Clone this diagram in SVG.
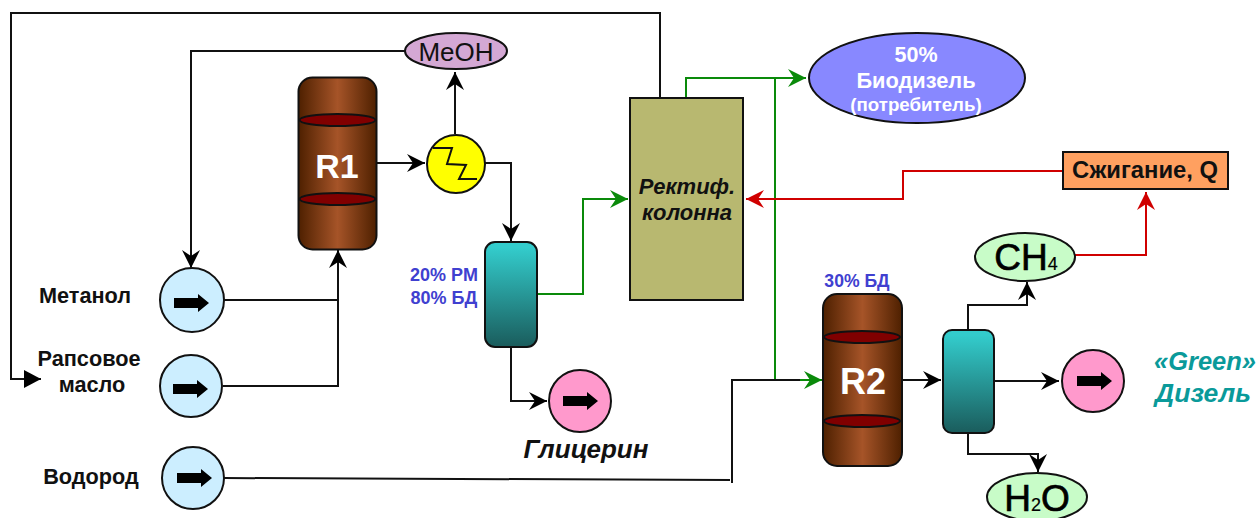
<svg xmlns="http://www.w3.org/2000/svg" width="1256" height="518" viewBox="0 0 1256 518">
<style>
text{font-family:"Liberation Sans",Arial,sans-serif;text-anchor:middle}
.l{font-weight:bold;font-size:21.7px;fill:#111}
.n{stroke:#111;stroke-width:2}
.c{fill:none;stroke:#111;stroke-width:2}
.g{fill:none;stroke:#0a8a0a;stroke-width:2}
.r{fill:none;stroke:#d00000;stroke-width:2}
.e{fill:#800000;stroke:#111;stroke-width:2}
.b{font-weight:bold;font-size:18px;fill:#4040d0}
.big{font-size:37px;fill:#000;stroke:#000;stroke-width:.7px}
.u{fill:#cceeff}
.p{fill:#ff99cc}
</style>
<defs>
<linearGradient id="cu"><stop offset="0" stop-color="#4e2000"/><stop offset=".5" stop-color="#a65428"/><stop offset="1" stop-color="#4e2000"/></linearGradient>
<linearGradient id="te" x2="0" y2="1"><stop offset=".05" stop-color="#33cccc"/><stop offset="1" stop-color="#1a5c5c"/></linearGradient>
<marker id="ak" markerUnits="userSpaceOnUse" markerWidth="22" markerHeight="22" refX="18" refY="10" orient="auto" overflow="visible"><path d="M18,10L0,1L6,10L0,19z" fill="#000"/></marker>
<marker id="ag" markerUnits="userSpaceOnUse" markerWidth="22" markerHeight="22" refX="18" refY="10" orient="auto" overflow="visible"><path d="M18,10L0,1L6,10L0,19z" fill="#0a8a0a"/></marker>
<marker id="ar" markerUnits="userSpaceOnUse" markerWidth="22" markerHeight="22" refX="18" refY="10" orient="auto" overflow="visible"><path d="M18,10L0,1L6,10L0,19z" fill="#d00000"/></marker>
<marker id="at" markerUnits="userSpaceOnUse" markerWidth="22" markerHeight="22" refX="17" refY="9" orient="auto" overflow="visible"><path d="M17,9L0,0L0,18z" fill="#000"/></marker>
<path id="pa" d="M-18,-5H6V-9L17,0L6,9V5H-18z" fill="#000"/>
</defs>

<g id="connectors">
<path class="c" d="M660,98V13H11V379H41" marker-end="url(#at)"/>
<path class="c" d="M405,51H191V268" marker-end="url(#ak)"/>
<path class="c" d="M224,300H338"/>
<path class="c" d="M223,386H338V250" marker-end="url(#ak)"/>
<path class="c" d="M377,163H425" marker-end="url(#ak)"/>
<path class="c" d="M455,134V72" marker-end="url(#ak)"/>
<path class="c" d="M485,163H511V241" marker-end="url(#ak)"/>
<path class="c" d="M511,347V401H547" marker-end="url(#ak)"/>
<path class="g" d="M537,294H583V199H628" marker-end="url(#ag)"/>
<path class="g" d="M686,98V78H806" marker-end="url(#ag)"/>
<path class="g" d="M775,78V380"/>
<path class="c" d="M224,478L730,480"/>
<path class="c" d="M732,483V380H775"/>
<path class="c" d="M775,380H810"/>
<path class="g" d="M800,380H822" marker-end="url(#ag)"/>
<path class="r" d="M1063,171H903V199H746" marker-end="url(#ar)"/>
<path class="r" d="M1075,255H1146V192" marker-end="url(#ar)"/>
<path class="c" d="M902,380H941" marker-end="url(#ak)"/>
<path class="c" d="M994,381H1059" marker-end="url(#ak)"/>
<path class="c" d="M968,330V305H1027V282" marker-end="url(#ak)"/>
<path class="c" d="M968,433V454H1038V472" marker-end="url(#ak)"/>
</g>

<g id="meoh"><ellipse class="n" cx="456" cy="51" rx="51" ry="18" fill="#d4a8d4"/><text x="456" y="61" font-size="26" fill="#111">MeOH</text></g>
<g id="r1"><rect class="n" x="298.500" y="77.500" width="78" height="172" rx="14" fill="url(#cu)"/><ellipse class="e" cx="337.500" cy="120" rx="38" ry="6"/><ellipse class="e" cx="337.500" cy="199" rx="38" ry="6"/><text x="337" y="178" font-size="34" font-weight="bold" fill="#fff">R1</text></g>
<g id="cooler"><circle class="n" cx="456" cy="164" r="29" fill="#ffff00"/><path class="c" d="M433,148H452L447,164L466,165L459,179H477"/></g>
<g id="sep1"><rect class="n" x="485" y="242" width="52" height="105" rx="10" fill="url(#te)"/></g>
<g id="label-sep1"><text class="b" x="444" y="281">20% РМ</text><text class="b" x="444" y="304">80% БД</text></g>
<g id="column"><rect class="n" x="630" y="98" width="113" height="202" fill="#b8b870"/><text x="687" y="194" font-size="22" font-weight="bold" font-style="italic" fill="#111">Ректиф.</text><text x="687" y="220" font-size="22" font-weight="bold" font-style="italic" fill="#111">колонна</text></g>
<g id="biodiesel"><ellipse class="n" cx="917" cy="78" rx="108" ry="45" fill="#8888ff"/><text x="916" y="62" font-size="21.500" font-weight="bold" fill="#fff">50%</text><text x="916" y="88" font-size="21.800" font-weight="bold" fill="#fff">Биодизель</text><text x="916" y="111" font-size="18.700" font-weight="bold" fill="#fff">(потребитель)</text></g>
<g id="burn"><rect class="n" x="1063" y="152" width="165" height="37" fill="#ffa060"/><text x="1145" y="178" font-size="23.800" font-weight="bold" fill="#111">Сжигание, Q</text></g>
<g id="ch4"><ellipse class="n" cx="1025" cy="257" rx="50" ry="24" fill="#c8fcc8"/><text class="big" x="1026" y="270">CH<tspan font-size="18" stroke-width=".2">4</tspan></text></g>
<g id="h2o"><ellipse class="n" cx="1037" cy="497" rx="50" ry="24" fill="#c8fcc8"/><text class="big" x="1037" y="511">H<tspan font-size="18" stroke-width=".2">2</tspan>O</text></g>
<g id="r2"><rect class="n" x="823" y="294" width="79" height="172" rx="14" fill="url(#cu)"/><ellipse class="e" cx="862" cy="337" rx="38" ry="6"/><ellipse class="e" cx="862" cy="421" rx="38" ry="6"/><text x="863" y="394" font-size="36" font-weight="bold" fill="#fff">R2</text></g>
<g id="label-r2"><text class="b" x="857" y="287" style="font-size:17.600px">30% БД</text></g>
<g id="sep2"><rect class="n" x="943" y="330" width="51" height="103" rx="9" fill="url(#te)"/></g>
<g id="pump-methanol"><circle class="n u" cx="192" cy="300" r="32"/><use href="#pa" x="192" y="303"/><text class="l" x="85" y="303">Метанол</text></g>
<g id="pump-oil"><circle class="n u" cx="191" cy="386" r="31"/><use href="#pa" x="191" y="389"/><text class="l" x="89" y="366">Рапсовое</text><text class="l" x="92" y="392">масло</text></g>
<g id="pump-h2"><circle class="n u" cx="193" cy="478" r="31"/><use href="#pa" x="195" y="478"/><text class="l" x="91" y="484">Водород</text></g>
<g id="pump-glycerin"><circle class="n p" cx="580" cy="401" r="31"/><use href="#pa" x="581" y="401"/><text x="586" y="458" font-size="26" font-weight="bold" font-style="italic" fill="#111">Глицерин</text></g>
<g id="pump-diesel"><circle class="n p" cx="1093" cy="381" r="31"/><use href="#pa" x="1095" y="381"/><text x="1205" y="370" font-size="25.500" font-weight="bold" font-style="italic" fill="#0a9a9a">«Green»</text><text x="1203" y="402" font-size="26.500" font-weight="bold" font-style="italic" fill="#0a9a9a">Дизель</text></g>
</svg>
